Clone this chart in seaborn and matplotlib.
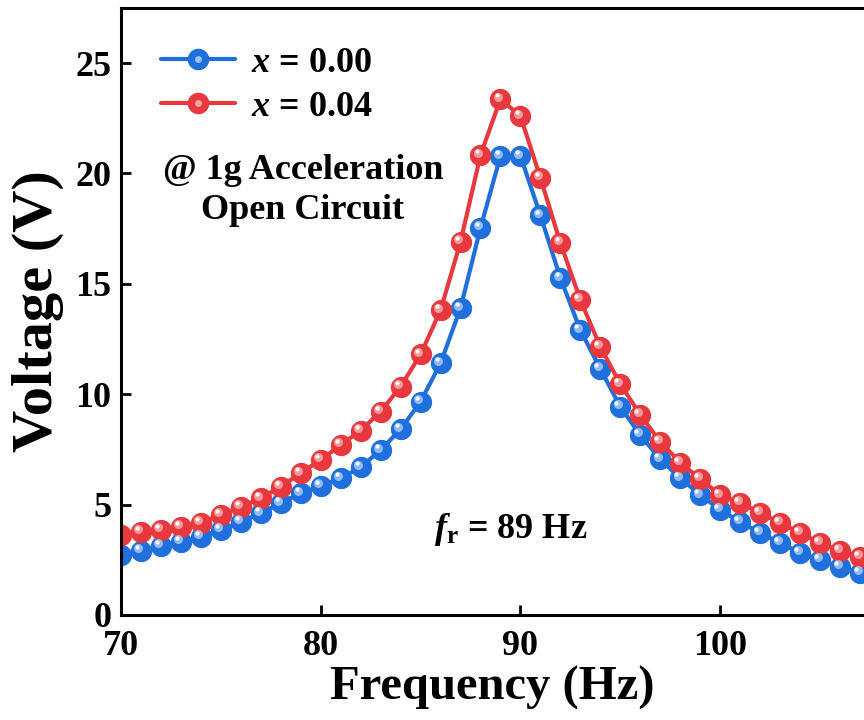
import numpy as np
import pandas as pd
import matplotlib
matplotlib.use("Agg")
import matplotlib.pyplot as plt
import matplotlib.transforms as mtransforms
from matplotlib.lines import Line2D
from matplotlib.legend_handler import HandlerTuple
import seaborn as sns

# data
freq = list(range(70, 108))
volt_000 = [2.72, 2.91, 3.14, 3.32, 3.55, 3.85, 4.23, 4.60, 5.06, 5.51,
            5.84, 6.19, 6.69, 7.47, 8.41, 9.66, 11.40, 13.90, 17.53, 20.79,
            20.79, 18.10, 15.26, 12.90, 11.15, 9.42, 8.15, 7.05, 6.20, 5.43,
            4.76, 4.21, 3.71, 3.26, 2.81, 2.49, 2.17, 1.90]
volt_004 = [3.62, 3.76, 3.85, 4.00, 4.18, 4.53, 4.90, 5.28, 5.81, 6.42,
            7.02, 7.70, 8.35, 9.21, 10.34, 11.80, 13.80, 16.90, 20.83, 23.37,
            22.60, 19.80, 16.85, 14.27, 12.14, 10.46, 9.06, 7.84, 6.90, 6.16,
            5.43, 5.07, 4.62, 4.17, 3.71, 3.26, 2.90, 2.63]
labels = ["$x$ = 0.00", "$x$ = 0.04"]
colors = ["#1f6fdc", "#e8383d"]
light = ["#9cc3f5", "#f6a3a5"]

df = pd.DataFrame({
    "Frequency": freq * 2,
    "Voltage": volt_000 + volt_004,
    "sample": [labels[0]] * len(freq) + [labels[1]] * len(freq),
})

sns.set_style("ticks", {"axes.edgecolor": "black", "text.color": "black",
                        "axes.labelcolor": "black", "xtick.color": "black",
                        "ytick.color": "black"})
plt.rcParams["font.family"] = ["Liberation Serif", "DejaVu Serif"]
plt.rcParams["font.weight"] = "bold"
plt.rcParams["mathtext.fontset"] = "custom"
plt.rcParams["mathtext.it"] = "Liberation Serif:italic:bold"
plt.rcParams["mathtext.rm"] = "Liberation Serif:bold"
plt.rcParams["mathtext.bf"] = "Liberation Serif:bold"

fig = plt.figure(figsize=(8.64, 7.2), dpi=100)
ax = fig.add_axes([0.140, 0.146, 0.86, 0.843])

sns.lineplot(data=df, x="Frequency", y="Voltage", hue="sample",
             palette=colors, marker="o", markersize=14.5, linewidth=3,
             markeredgewidth=0.8, ax=ax, legend=False)
for ln, c in zip(ax.lines, colors):
    ln.set_markeredgecolor(c)

# sphere look: light spot up-left on each marker
for vals, lc in zip([volt_000, volt_004], light):
    off1 = mtransforms.offset_copy(ax.transData, fig=fig, x=-1.8, y=1.8, units="points")
    off2 = mtransforms.offset_copy(ax.transData, fig=fig, x=-2.8, y=2.8, units="points")
    ax.plot(freq, vals, "o", ms=6.5, color=lc, mec="none", transform=off1, alpha=0.9)
    ax.plot(freq, vals, "o", ms=3, color="white", mec="none", transform=off2)

ax.set_xlim(70, 107.2)
ax.set_ylim(0, 27.5)
ax.set_xticks([70, 80, 90, 100])
ax.set_yticks([0, 5, 10, 15, 20, 25])
ax.tick_params(direction="in", length=7, width=2, labelsize=26)
ax.tick_params(axis="x", pad=11)
ax.tick_params(axis="y", pad=7)
for s in ["left", "bottom", "top"]:
    ax.spines[s].set_linewidth(2.2)
ax.spines["right"].set_visible(False)

ax.set_xlabel("Frequency (Hz)", fontsize=35, fontweight="bold", labelpad=2)
ax.set_ylabel("Voltage (V)", fontsize=42, fontweight="bold", labelpad=8)

handles = []
for c, lc in zip(colors, light):
    h1 = Line2D([], [], color=c, lw=3, marker="o", ms=14.5, mec=c)
    h2 = Line2D([], [], ls="none", marker="o", ms=5, color=lc, mec="none")
    handles.append((h1, h2))
ax.legend(handles, labels, handler_map={tuple: HandlerTuple(ndivide=1, pad=0)},
          loc="upper left", bbox_to_anchor=(0.01, 0.99), frameon=False,
          fontsize=26, handlelength=2.05, handletextpad=0.45, labelspacing=0.3)

ax.text(0.245, 0.699, "@ 1g Acceleration\nOpen Circuit", transform=ax.transAxes,
        ha="center", va="center", fontsize=26, fontweight="bold", linespacing=1.3)
ax.text(89.5, 3.85, r"$f_\mathrm{r}$ = 89 Hz", ha="center", va="center",
        fontsize=26, fontweight="bold")

fig.savefig("out.png", dpi=100)
